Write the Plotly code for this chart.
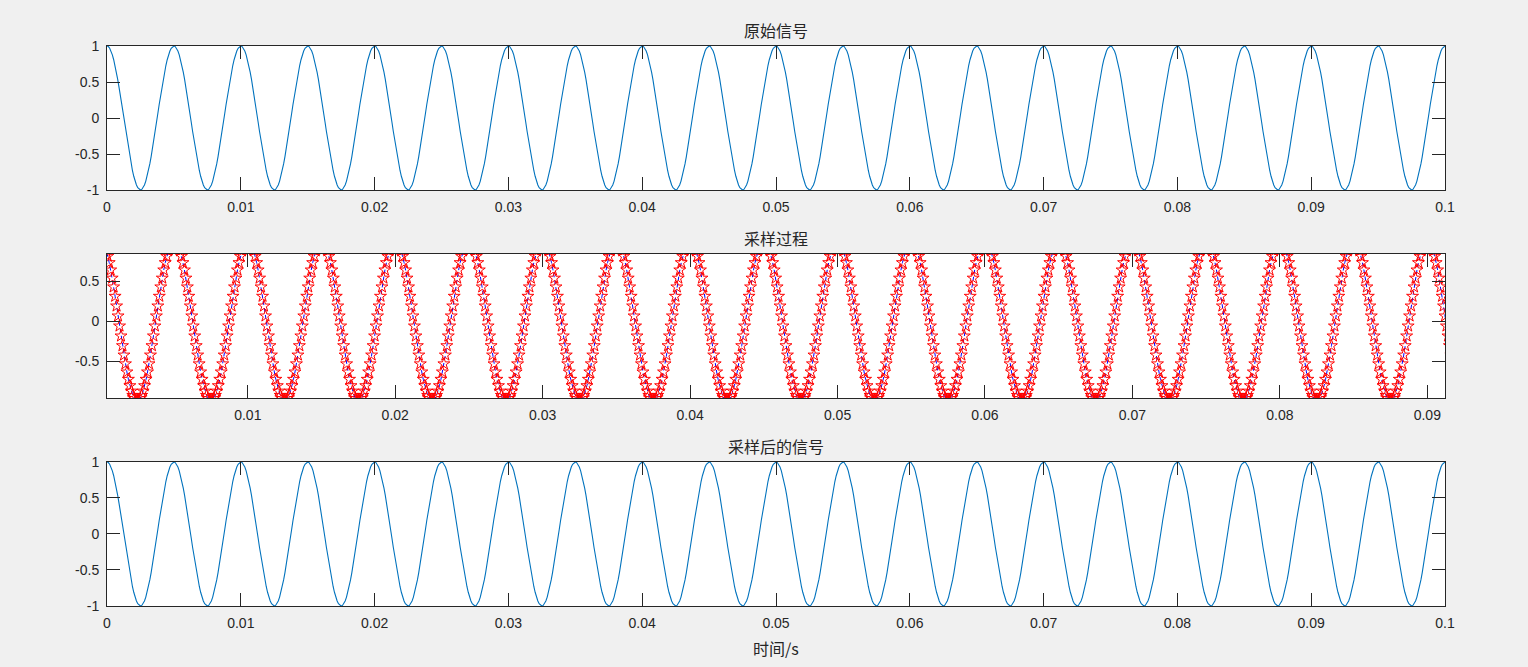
"""
Sinal cosseno de 200 Hz: original, processo de amostragem e sinal amostrado
"""

import plotly.graph_objects as go

# Um periodo do sinal (50 amostras a 10 kHz)
periodo = [1.0, 0.9921, 0.9686, 0.9298, 0.8763, 0.8090, 0.7290, 0.6374, 0.5358, 0.4258,
           0.3090, 0.1874, 0.0628, -0.0628, -0.1874, -0.3090, -0.4258, -0.5358, -0.6374, -0.7290,
           -0.8090, -0.8763, -0.9298, -0.9686, -0.9921, -1.0, -0.9921, -0.9686, -0.9298, -0.8763,
           -0.8090, -0.7290, -0.6374, -0.5358, -0.4258, -0.3090, -0.1874, -0.0628, 0.0628, 0.1874,
           0.3090, 0.4258, 0.5358, 0.6374, 0.7290, 0.8090, 0.8763, 0.9298, 0.9686, 0.9921]
n_periodos = 20            # periodos visiveis em 0 .. 0.1 s
passo = 0.0001             # intervalo de amostragem (s)
sinal = periodo * n_periodos + [periodo[0]]

titulos = ['原始信号', '采样过程', '采样后的信号']
rotulo_x = '时间/s'

ticks_x = [0, 0.01, 0.02, 0.03, 0.04, 0.05, 0.06, 0.07, 0.08, 0.09, 0.1]
textos_x = ['0', '0.01', '0.02', '0.03', '0.04', '0.05', '0.06', '0.07', '0.08', '0.09', '0.1']
ticks_y = [-1, -0.5, 0, 0.5, 1]
textos_y = ['-1', '-0.5', '0', '0.5', '1']

ticks_x_meio = [0.01, 0.02, 0.03, 0.04, 0.05, 0.06, 0.07, 0.08, 0.09]
textos_x_meio = ['0.01', '0.02', '0.03', '0.04', '0.05', '0.06', '0.07', '0.08', '0.09']
ticks_y_meio = [-0.5, 0, 0.5]
textos_y_meio = ['-0.5', '0', '0.5']

faixa_x_meio = [0.00045, 0.0912]
faixa_y_meio = [-0.9625, 0.8375]

AZUL = '#0072BD'
EIXO = '#262626'
FONTE = 'Liberation Sans, Arial, sans-serif'
FONTE_CJK = 'Noto Sans CJK SC, sans-serif'

fig = go.Figure()

# Sinal original
fig.add_trace(go.Scatter(
    y=sinal, x0=0, dx=passo, mode='lines',
    line=dict(color=AZUL, width=1.1),
    xaxis='x', yaxis='y', showlegend=False
))

# Processo de amostragem
fig.add_trace(go.Scatter(
    y=sinal, x0=0, dx=passo, mode='lines+markers',
    line=dict(color='#0000FF', width=1, dash='4px,3px'),
    marker=dict(symbol='star-open', size=9, color='#FF0000', line=dict(width=1, color='#FF0000')),
    xaxis='x2', yaxis='y2', showlegend=False
))

# Sinal amostrado
fig.add_trace(go.Scatter(
    y=sinal, x0=0, dx=passo, mode='lines',
    line=dict(color=AZUL, width=1.1),
    xaxis='x3', yaxis='y3', showlegend=False
))


def eixo(dominio=None, **kw):
    d = dict(
        showline=True, linecolor=EIXO, linewidth=1, mirror='ticks',
        ticks='inside', ticklen=13, tickcolor=EIXO, tickwidth=1,
        showgrid=False, zeroline=False, ticklabelstandoff=4,
        tickfont=dict(family=FONTE, size=14, color=EIXO),
    )
    if dominio is not None:
        d['domain'] = dominio
    d.update(kw)
    return d


fig.update_layout(
    width=1528, height=667,
    margin=dict(l=107, r=83, t=46, b=61),
    paper_bgcolor='#F0F0F0',
    plot_bgcolor='white',
    xaxis=eixo(range=[0, 0.1], tickvals=ticks_x, ticktext=textos_x, anchor='y'),
    yaxis=eixo([0.742857, 1.0], range=[-1, 1], tickvals=ticks_y, ticktext=textos_y, anchor='x'),
    xaxis2=eixo(range=faixa_x_meio, tickvals=ticks_x_meio, ticktext=textos_x_meio, anchor='y2'),
    yaxis2=eixo([0.371429, 0.628571], range=faixa_y_meio, tickvals=ticks_y_meio,
                ticktext=textos_y_meio, anchor='x2'),
    xaxis3=eixo(range=[0, 0.1], tickvals=ticks_x, ticktext=textos_x, anchor='y3'),
    yaxis3=eixo([0.0, 0.257143], range=[-1, 1], tickvals=ticks_y, ticktext=textos_y, anchor='x3'),
)

# Titulos de cada grafico e rotulo do eixo x
for titulo, y in zip(titulos, [1.0, 0.628571, 0.257143]):
    fig.add_annotation(
        text=titulo, x=0.5, y=y, xref='paper', yref='paper',
        xanchor='center', yanchor='bottom', yshift=2, showarrow=False,
        font=dict(family=FONTE_CJK, size=16, color=EIXO)
    )

fig.add_annotation(
    text=rotulo_x, x=0.5, y=0, xref='paper', yref='paper',
    xanchor='center', yanchor='top', yshift=-28, showarrow=False,
    font=dict(family=FONTE_CJK, size=16, color=EIXO)
)

fig.write_html('out.html', config={'displayModeBar': False},
               post_script="document.body.style.margin='0px';")
